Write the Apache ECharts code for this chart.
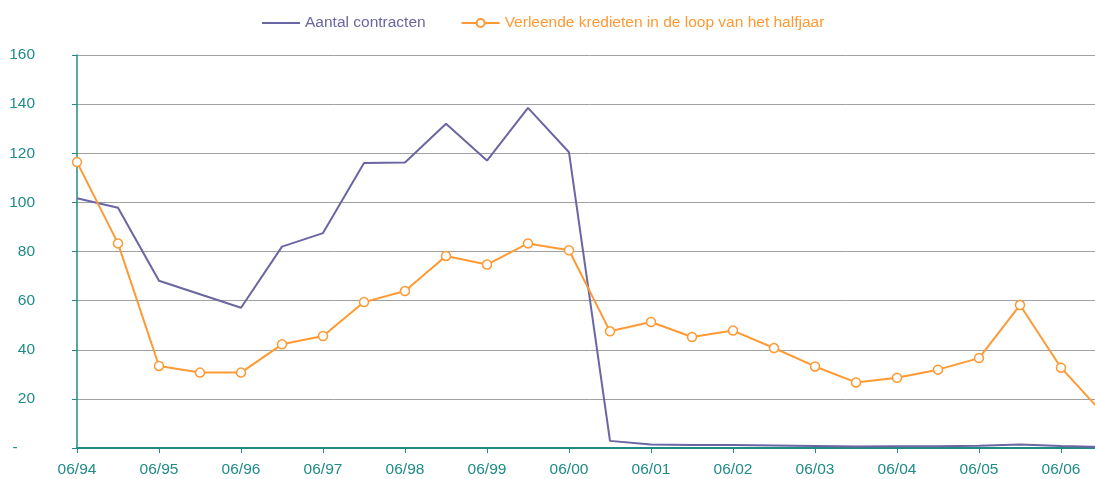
<!DOCTYPE html>
<html><head><meta charset="utf-8">
<script src="https://cdn.jsdelivr.net/npm/echarts@6/dist/echarts.min.js"></script>
<style>html,body{margin:0;padding:0;background:#fff;overflow:hidden;width:1095px;height:479px}#c{width:1102px;height:479px}</style>
</head><body><div id="c"></div>
<script>
const categories = ['06/94','12/94','06/95','12/95','06/96','12/96','06/97','12/97','06/98','12/98','06/99','12/99','06/00','12/00','06/01','12/01','06/02','12/02','06/03','12/03','06/04','12/04','06/05','12/05','06/06','12/06'];
const contracten = [101.7,97.8,68.1,62.6,57.1,82,87.5,116,116.2,132,117,138.5,120.4,2.9,1.4,1.2,1.2,1.0,0.8,0.6,0.7,0.7,0.9,1.4,0.8,0.4];
const kredieten = [116.4,83.3,33.4,30.7,30.7,42.2,45.6,59.4,63.9,78.2,74.7,83.3,80.5,47.5,51.3,45.2,47.8,40.7,33.2,26.7,28.6,31.9,36.6,58.2,32.7,14.5];
const seriesNames = ['Aantal contracten','Verleende kredieten in de loop van het halfjaar'];
const yTicks = [0,20,40,60,80,100,120,140,160];

const teal = '#1f8c88';
const purple = '#6a66a3';
const orange = '#ff9933';
const font = 'Liberation Sans, Arial, sans-serif';
const fs = 15.5;

const chart = echarts.init(document.getElementById('c'));
chart.setOption({
  animation: false,
  legend: {
    left: 256, top: 10,
    itemWidth: 38, itemHeight: 10, itemGap: 35,
    textStyle: {fontFamily: font, fontSize: fs},
    data: [
      {name: seriesNames[0], textStyle: {color: purple},
       itemStyle: {color: 'rgba(0,0,0,0)', borderWidth: 0, opacity: 0}},
      {name: seriesNames[1], textStyle: {color: orange}}
    ]
  },
  grid: {left: 77, right: 0, top: 55, bottom: 31, containLabel: false},
  xAxis: {
    type: 'category', data: categories, boundaryGap: false,
    axisLine: {lineStyle: {color: teal, width: 2}},
    axisTick: {show: true, length: 5, interval: (i) => i % 2 === 0, lineStyle: {color: teal}},
    axisLabel: {interval: (i) => i % 2 === 0, color: teal, fontFamily: font, fontSize: fs, margin: 14},
    splitLine: {show: false}
  },
  yAxis: {
    type: 'value', min: yTicks[0], max: yTicks[yTicks.length-1], interval: 20,
    axisLine: {show: true, lineStyle: {color: teal, width: 1.5}},
    axisTick: {show: true, length: 5, inside: false, lineStyle: {color: teal}},
    axisLabel: {color: teal, fontFamily: font, fontSize: fs, margin: 42,
      formatter: v => v === 0 ? '-    ' : String(v)},
    splitLine: {lineStyle: {color: '#a0a0a0', width: 1}}
  },
  series: [
    {name: seriesNames[0], type: 'line', data: contracten, symbol: 'none',
     lineStyle: {color: purple, width: 2}, itemStyle: {color: purple}},
    {name: seriesNames[1], type: 'line', data: kredieten, symbol: 'circle', symbolSize: 9,
     showAllSymbol: true,
     lineStyle: {color: orange, width: 2},
     itemStyle: {color: '#fff', borderColor: orange, borderWidth: 1.5}}
  ]
});
</script></body></html>
